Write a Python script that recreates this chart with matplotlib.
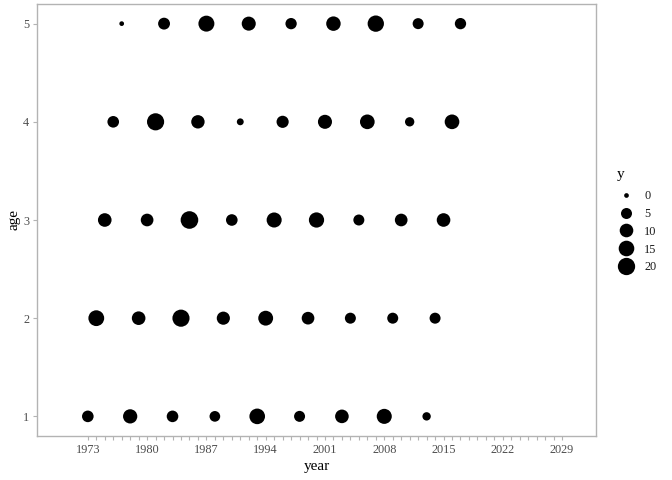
import numpy as np
import matplotlib
matplotlib.use("Agg")
import matplotlib.pyplot as plt
from matplotlib.lines import Line2D

# ---- data ----
years_age1 = [1973, 1978, 1983, 1988, 1993, 1998, 2003, 2008, 2013]
years_age2 = [1974, 1979, 1984, 1989, 1994, 1999, 2004, 2009, 2014]
years_age3 = [1975, 1980, 1985, 1990, 1995, 2000, 2005, 2010, 2015]
years_age4 = [1976, 1981, 1986, 1991, 1996, 2001, 2006, 2011, 2016]
years_age5 = [1977, 1982, 1987, 1992, 1997, 2002, 2007, 2012, 2017]
y_age1 = [6, 11.5, 6, 4.5, 15, 5, 10, 13.5, 1.7]
y_age2 = [15.5, 10, 19.5, 9, 13, 8, 5, 5, 5]
y_age3 = [10, 8, 21, 6, 13.5, 14, 5, 8, 10]
y_age4 = [6, 19.5, 9.5, 0.6, 7, 11, 12.5, 2.7, 12.5]
y_age5 = [0, 6.5, 16, 11, 5.5, 12, 17, 5, 5.5]
ages = [1, 2, 3, 4, 5]
legend_values = [0, 5, 10, 15, 20]
x_ticks = list(range(1973, 2030, 7))
y_ticks = [1, 2, 3, 4, 5]

years_all = [years_age1, years_age2, years_age3, years_age4, years_age5]
y_all = [y_age1, y_age2, y_age3, y_age4, y_age5]

DPI = 100
W, H = 672, 480
FONT = "Liberation Serif"
plt.rcParams['font.family'] = [FONT, 'DejaVu Serif']

def diam_px(v):
    return 4.7 + 12.6 * np.sqrt(np.asarray(v, dtype=float) / 20.0)

def s_of(v):
    d_pt = diam_px(v) * 72.0 / DPI
    return d_pt ** 2

fig = plt.figure(figsize=(W / DPI, H / DPI), dpi=DPI)
fig.patch.set_facecolor("white")
L, R, T, B = 37, 596, 4, 436
ax = fig.add_axes([L / W, 1 - B / H, (R - L) / W, (B - T) / H])

for a, xs, vs in zip(ages, years_all, y_all):
    ax.scatter(xs, [a] * len(xs), s=s_of(vs), color="black", linewidths=0, zorder=3)

ax.set_xlim(1967, 2033)
ax.set_ylim(0.8, 5.2)
ax.set_xticks(x_ticks)
ax.set_xticks(list(range(1973, 2030)), minor=True)
ax.set_yticks(y_ticks)
ax.set_xticklabels([str(t) for t in x_ticks])
ax.set_yticklabels([str(t) for t in y_ticks])

border = "#B3B3B3"
for sp in ax.spines.values():
    sp.set_color(border)
    sp.set_linewidth(1.0)
tick_fs = 8.8
title_fs = 11
ax.tick_params(axis="both", which="major", length=3, width=0.8, color=border,
               labelsize=tick_fs, labelcolor="#4D4D4D", pad=2.5)
ax.tick_params(axis="x", which="minor", length=3, width=0.8, color=border)
ax.set_xlabel("year", fontsize=title_fs, color="black", labelpad=3)
ax.set_ylabel("age", fontsize=title_fs, color="black", labelpad=2)

# legend
handles = [Line2D([], [], linestyle="none", marker="o", markersize=diam_px(v) * 72.0 / DPI,
                  markerfacecolor="black", markeredgewidth=0) for v in legend_values]
leg = fig.legend(handles, [str(v) for v in legend_values],
                 loc="upper left", bbox_to_anchor=(616 / W, 1 - 190 / H),
                 frameon=False, fontsize=tick_fs,
                 labelspacing=0.48, handletextpad=0.7, handlelength=1.6,
                 borderaxespad=0, borderpad=0)
for t in leg.get_texts():
    t.set_color("#1a1a1a")
fig.text(617 / W, 1 - 175 / H, "y", fontsize=title_fs, color="black",
         ha="left", va="center")

fig.savefig("out.png", dpi=DPI)
